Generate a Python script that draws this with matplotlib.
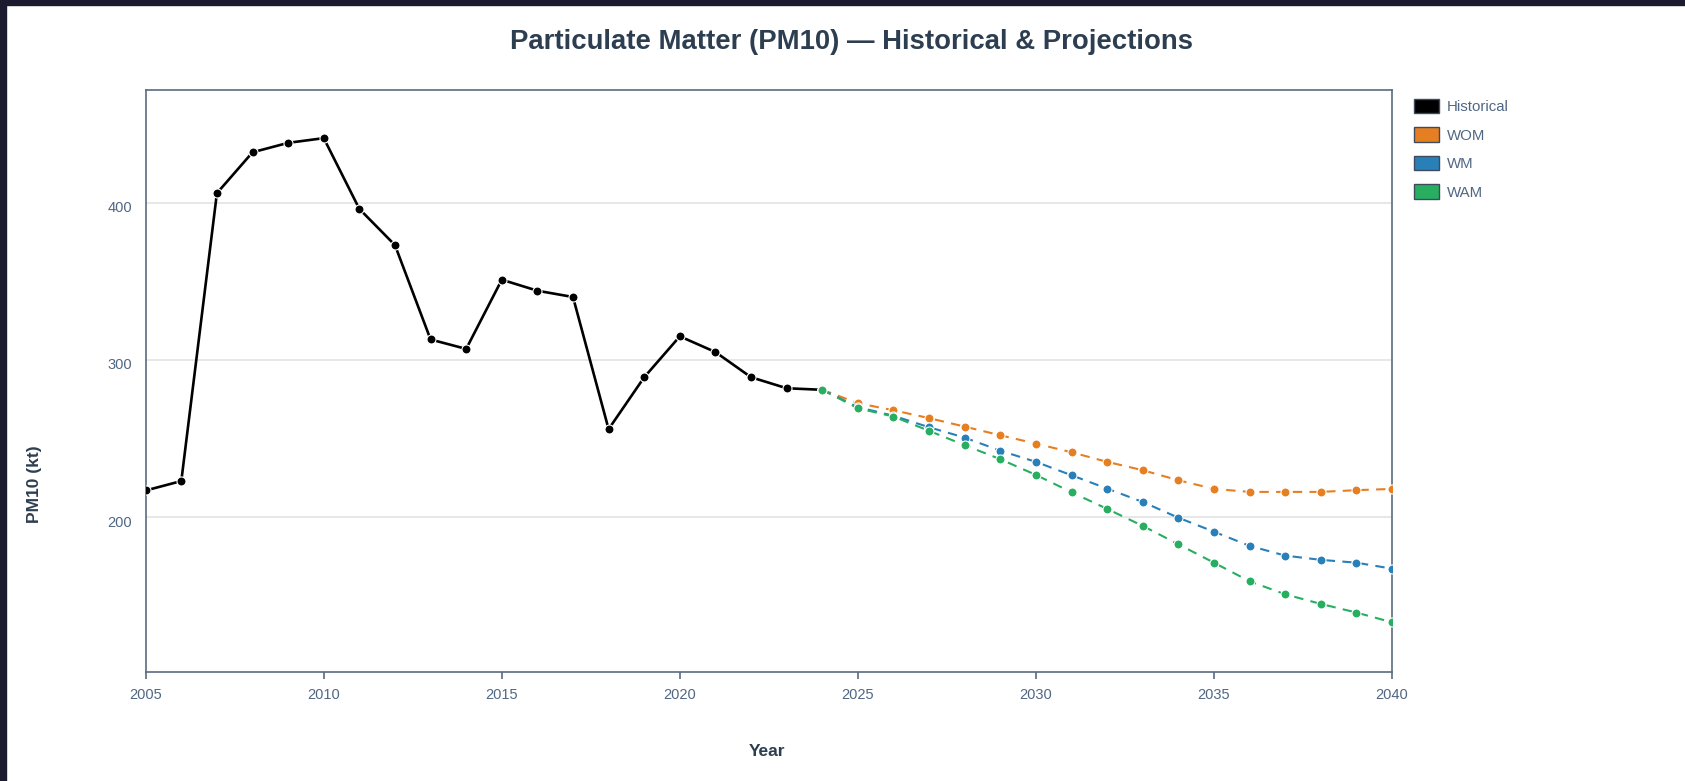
import matplotlib
matplotlib.use("Agg")
import matplotlib.pyplot as plt
from matplotlib.patches import Patch, Rectangle
from matplotlib.transforms import ScaledTranslation

# ---------------------------------
# PM10 data (kt)
# ---------------------------------

hist_years = list(range(2005, 2025))
hist_values = [217, 223, 406, 432, 438, 441, 396, 373, 313, 307,
               351, 344, 340, 256, 289, 315, 305, 289, 282, 281]

proj_years = list(range(2024, 2041))
wom_values = [281, 272.5, 268, 263, 257.6, 252.1, 246.8, 241.3, 235.2,
              229.9, 223.5, 218, 216.1, 216.1, 216.1, 217.2, 218]
wm_values = [281, 270, 264.5, 257.2, 250.6, 242.3, 235.2, 226.7, 218.2,
             209.7, 199.7, 190.8, 181.8, 175.6, 172.9, 171.1, 167.3]
wam_values = [281, 269.3, 264, 254.9, 245.8, 236.9, 226.9, 215.9, 205.3,
              194.5, 182.8, 171.1, 159.3, 151, 144.9, 139.4, 133.2]

series_names = ["Historical", "WOM", "WM", "WAM"]
series_colors = ["#000000", "#e67e22", "#2980b9", "#27ae60"]

x_ticks = [2005, 2010, 2015, 2020, 2025, 2030, 2035, 2040]
y_ticks = [200, 300, 400]

# ---------------------------------
# Plot
# ---------------------------------

plt.rcParams["font.family"] = ["Liberation Sans", "DejaVu Sans"]

W, H = 1685, 781
fig = plt.figure(figsize=(W / 100, H / 100), dpi=100)
ax = fig.add_axes([145.7 / W, 1 - 671.7 / H, (1392 - 145.7) / W, (671.7 - 90) / H])

frame_col = "#5a6b7f"
text_col = "#506784"
title_col = "#2c3e50"

ax.plot(hist_years, hist_values, color=series_colors[0], lw=1.9,
        marker="o", ms=6.5, mfc=series_colors[0], mec="white", mew=0.8, zorder=3)

proj = [wom_values, wm_values, wam_values]
for i, vals in enumerate(proj):
    ax.plot(proj_years, vals, color=series_colors[i + 1], lw=1.5,
            ls=(0, (4.5, 3.5)), marker="o", ms=6.5, mfc=series_colors[i + 1],
            mec="white", mew=0.8, zorder=4 + i)

ax.set_xlim(2005, 2040)
ax.set_ylim(101.8, 471.6)
ax.set_xticks(x_ticks)
ax.set_yticks(y_ticks)
ax.grid(axis="y", color="#e3e3e3", lw=1.2)
ax.set_axisbelow(True)

for s in ax.spines.values():
    s.set_color(frame_col)
    s.set_linewidth(1.2)

ax.tick_params(axis="x", length=5, width=1.2, color=frame_col,
               labelcolor=text_col, labelsize=10.5, pad=7)
ax.tick_params(axis="y", length=0, labelcolor=text_col, labelsize=10.5, pad=10)

# y labels sit a little below their gridlines
for lab in ax.get_yticklabels():
    lab.set_transform(lab.get_transform() + ScaledTranslation(0, -0.04, fig.dpi_scale_trans))

fig.text(852 / W, 1 - 42 / H,
         "Particulate Matter (PM10) \u2014 Historical & Projections",
         ha="center", va="center", fontsize=19.8, fontweight="bold", color=title_col)
fig.text(767 / W, 1 - 752 / H, "Year", ha="center", va="center",
         fontsize=12.5, fontweight="bold", color=title_col)
fig.text(34 / W, 1 - 484 / H, "PM10 (kt)", ha="center", va="center",
         rotation=90, fontsize=12.5, fontweight="bold", color=title_col)

handles = [Patch(facecolor=c, edgecolor="#3d4b5c", lw=1.0) for c in series_colors]
fig.legend(handles, series_names, loc="upper left",
           bbox_to_anchor=(1414 / W, 1 - 99 / H), frameon=False,
           fontsize=10.8, labelcolor=text_col, handlelength=1.65, handleheight=1.1,
           handletextpad=0.55, labelspacing=0.88, borderpad=0, borderaxespad=0)

# dark border strip around the screenshot
fig.patches.append(Rectangle((0, 1 - 5 / H), 1, 5 / H, transform=fig.transFigure,
                             color="#1b1a2e", zorder=10))
fig.patches.append(Rectangle((0, 0), 6 / W, 1, transform=fig.transFigure,
                             color="#1b1a2e", zorder=10))

plt.savefig("out.png", dpi=100)
